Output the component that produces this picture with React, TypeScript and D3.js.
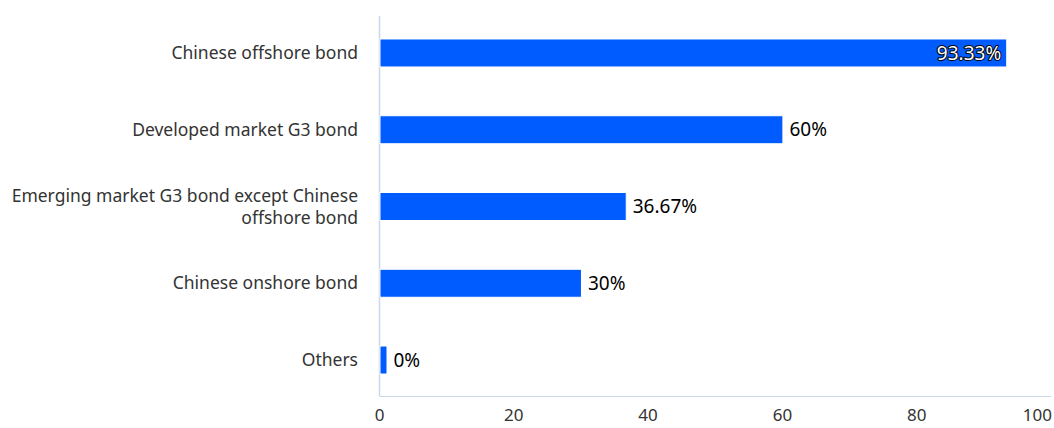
import React from "react";
import * as d3 from "d3";

const categories: string[][] = [
  ["Chinese offshore bond"],
  ["Developed market G3 bond"],
  ["Emerging market G3 bond except Chinese", "offshore bond"],
  ["Chinese onshore bond"],
  ["Others"],
];
const values: number[] = [93.33, 60, 36.67, 30, 0];
const valueLabels: string[] = ["93.33%", "60%", "36.67%", "30%", "0%"];
const xTicks: number[] = [0, 20, 40, 60, 80, 100];

const W = 1054;
const H = 428;
const left = 379.5;
const right = 1051;
const top = 16;
const bottom = 396;
const font = "'Noto Sans', 'Open Sans', sans-serif";

export default function App() {
  const keys = categories.map((c) => c.join(" "));
  const x = d3.scaleLinear().domain([0, 100]).range([left, right]);
  const y = d3.scaleBand<string>().domain(keys).range([14.6, 398.4]);
  const bh = 28;
  return (
    <svg
      width={W}
      height={H}
      style={{ position: "absolute", left: 0, top: 0, background: "#fff" }}
      fontFamily={font}
    >
      <line x1={left} x2={left} y1={top} y2={bottom} stroke="#ccd6eb" strokeWidth={1.5} />
      <line x1={left} x2={right} y1={bottom + 0.5} y2={bottom + 0.5} stroke="#ccd6eb" strokeWidth={1} />
      {keys.map((k, i) => {
        const cy = (y(k) as number) + y.bandwidth() / 2;
        const wRaw = x(values[i]) - x(0);
        const w = Math.max(wRaw, 7);
        const lines = categories[i];
        const inside = values[i] > 90;
        return (
          <g key={k}>
            <rect
              x={x(0) + 0.5}
              y={cy - bh / 2}
              width={w}
              height={bh}
              fill="#005cff"
              stroke="#ffffff"
              strokeWidth={1}
            />
            {lines.map((ln, j) => (
              <text
                key={j}
                x={358}
                y={cy + (j - (lines.length - 1) / 2) * 22}
                dy="0.35em"
                textAnchor="end"
                fontSize={17.5}
                fill="#333333"
              >
                {ln}
              </text>
            ))}
            {inside ? (
              <text
                x={x(0) + w - 5}
                y={cy}
                dy="0.35em"
                textAnchor="end"
                fontSize={19}
                fill="#ffffff"
                stroke="#000000"
                strokeWidth={2}
                paintOrder="stroke"
                strokeLinejoin="round"
              >
                {valueLabels[i]}
              </text>
            ) : (
              <text
                x={x(0) + w + 7}
                y={cy}
                dy="0.35em"
                textAnchor="start"
                fontSize={19}
                fill="#000000"
              >
                {valueLabels[i]}
              </text>
            )}
          </g>
        );
      })}
      {xTicks.map((t, i) => (
        <text
          key={t}
          x={i === xTicks.length - 1 ? W - 2 : x(t)}
          y={421}
          textAnchor={i === xTicks.length - 1 ? "end" : "middle"}
          fontSize={17}
          fill="#333333"
        >
          {t}
        </text>
      ))}
    </svg>
  );
}
